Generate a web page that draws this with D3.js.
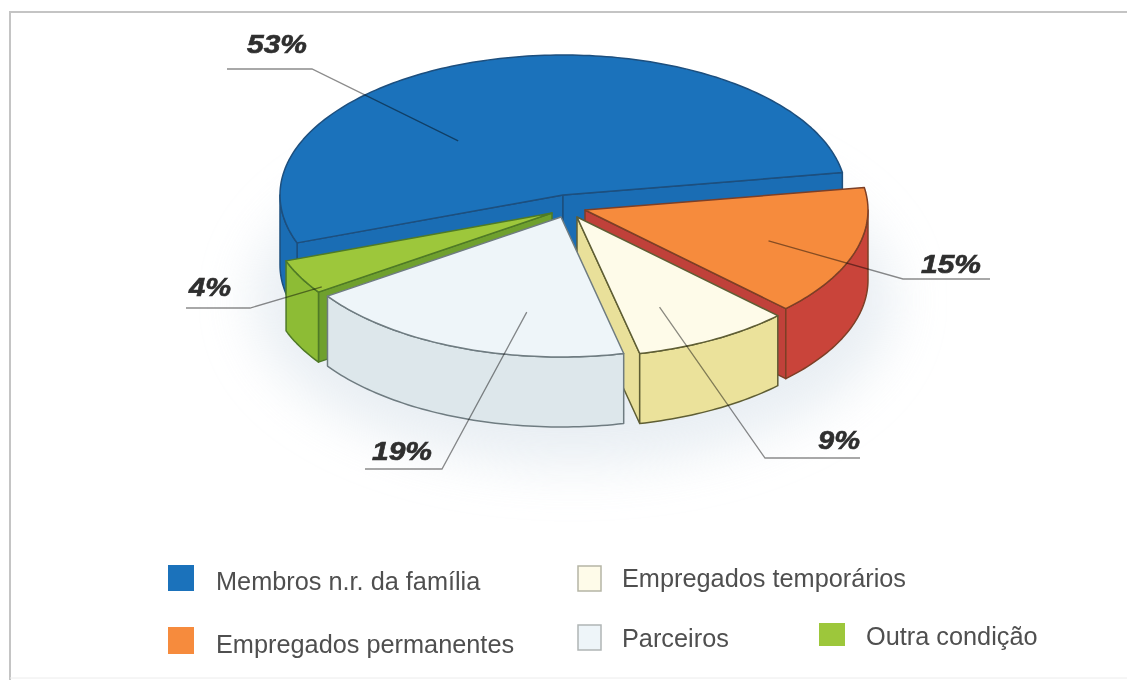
<!DOCTYPE html>
<html>
<head>
<meta charset="utf-8">
<script src="https://cdnjs.cloudflare.com/ajax/libs/d3/7.8.5/d3.min.js"></script>
<style>
	html, body { margin: 0; padding: 0; background: #fff; }
	svg { display: block; filter: blur(0.7px); }
</style>
</head>
<body>
<svg id="chart" width="1127" height="680"></svg>
<script>
// data
const categories = ['Membros n.r. da família', 'Empregados permanentes', 'Empregados temporários', 'Parceiros', 'Outra condição'];
const values = [53, 15, 9, 19, 4];

// colours per slice
const topColors = ['#1b72bb', '#f68b3d', '#fefbe9', '#eef5f9', '#9dc73b'];
const wallColors = ['#1a6db4', '#c9443a', '#ebe29b', '#dde7eb', '#8dbc35'];
const faceColors = ['#1a6db4', '#c0413a', '#e9e09a', '#dde7eb', '#6fa02e'];
const lineColors = ['#1d4f7e', '#7d3f26', '#5f5e34', '#6f7c81', '#4f7a26'];

// slice layout, pixels
const sliceOffsetX = [0, 22, 14, -2, -11];
const sliceOffsetY = [0, 15, 22, 22, 18];
const depth = 70;
const startDeg = -110;

// leaders: anchor is polar inside the slice, elbow and end in pixels
const anchorRadius = [0.535, 0.685, 0.706, 0.69, 0.97];
const anchorDeg = [-43.8, 108.8, 155.6, 190.1, 237];
const elbowX = [312, 903, 765, 442, 250];
const elbowY = [69, 279, 458, 469, 308];
const endX = [227, 990, 860, 365, 186];
const labelX = [277, 951, 839, 402, 210];
const labelY = [53, 273, 449, 460, 296];

// legend layout
const swatchX = [168, 168, 578, 578, 819];
const swatchY = [565, 627, 566, 625, 623];
const swatchW = [26, 26, 23, 23, 26];
const swatchH = [26, 27, 25, 25, 23];
const legendTextX = [216, 216, 622, 622, 866];
const legendTextY = [590, 653, 587, 647, 645];
const swatchStroke = [null, null, '#b5b5a5', '#b0b5b5', null];

const svg = d3.select('#chart');

const defs = svg.append('defs');
defs.append('filter').attr('id', 'glow')
	.attr('x', '-30%').attr('y', '-30%').attr('width', '160%').attr('height', '160%')
	.append('feGaussianBlur').attr('stdDeviation', 26);

// frame
svg.append('path')
	.attr('d', 'M10,680V12H1127')
	.attr('fill', 'none').attr('stroke', '#c4c4c4').attr('stroke-width', 2);
svg.append('line')
	.attr('x1', 10).attr('x2', 1127).attr('y1', 678).attr('y2', 678)
	.attr('stroke', '#ececec');

// unit circle to screen
const x = d3.scaleLinear().domain([-1, 1]).range([280, 846]);
const y = d3.scaleLinear().domain([-1, 1]).range([55, 335]);

const pie = d3.pie().sort(null)
	.startAngle(startDeg * Math.PI / 180)
	.endAngle((startDeg + 360) * Math.PI / 180);
const arcs = pie(values);

const px = a => x(Math.sin(a));
const py = a => y(-Math.cos(a));

function arcPoints(a0, a1) {
	const n = Math.max(2, Math.ceil(Math.abs(a1 - a0) / 0.02));
	return d3.range(n + 1).map(k => a0 + (a1 - a0) * k / n);
}

const line = d3.line();

function topPath(d) {
	const pts = [[x(0), y(0)]].concat(arcPoints(d.startAngle, d.endAngle).map(a => [px(a), py(a)]));
	return line(pts) + 'Z';
}

// outer wall is seen only on the front half of the ellipse
function wallPath(a0, a1) {
	const up = arcPoints(a0, a1).map(a => [px(a), py(a)]);
	const down = arcPoints(a1, a0).map(a => [px(a), py(a) + depth]);
	return line(up.concat(down)) + 'Z';
}

function facePath(a) {
	return line([[x(0), y(0)], [px(a), py(a)], [px(a), py(a) + depth], [x(0), y(0) + depth]]) + 'Z';
}

function frontRanges(d) {
	const half = Math.PI / 2, out = [];
	[[half, 3 * half], [half - 2 * Math.PI, 3 * half - 2 * Math.PI]].forEach(r => {
		const a0 = Math.max(d.startAngle, r[0]), a1 = Math.min(d.endAngle, r[1]);
		if (a1 > a0) out.push([a0, a1]);
	});
	return out;
}

// soft shadow round the pie
svg.append('ellipse')
	.attr('cx', x(0) + 10).attr('cy', y(0) + 105)
	.attr('rx', 320).attr('ry', 165)
	.attr('fill', '#dfe7ee').attr('opacity', 0.7)
	.attr('filter', 'url(#glow)');

// painter order: back slices first, parceiros last
const paintOrder = [0, 1, 2, 4, 3];
paintOrder.forEach(i => {
	const d = arcs[i];
	const g = svg.append('g')
		.attr('transform', 'translate(' + sliceOffsetX[i] + ',' + sliceOffsetY[i] + ')')
		.attr('stroke', lineColors[i])
		.attr('stroke-width', 1.5)
		.attr('stroke-linejoin', 'round');

	if (Math.sin(d.startAngle) < 0) {
		g.append('path').attr('d', facePath(d.startAngle)).attr('fill', faceColors[i]);
	}
	if (Math.sin(d.endAngle) > 0) {
		g.append('path').attr('d', facePath(d.endAngle)).attr('fill', faceColors[i]);
	}
	frontRanges(d).forEach(r => {
		g.append('path').attr('d', wallPath(r[0], r[1])).attr('fill', wallColors[i]);
	});
	g.append('path').attr('d', topPath(d)).attr('fill', topColors[i]);
});

// leaders
const leaders = svg.append('g')
	.attr('fill', 'none')
	.attr('stroke', '#8c8c8c')
	.attr('stroke-width', 1.3)
	.style('mix-blend-mode', 'multiply');

values.forEach((v, i) => {
	const a = anchorDeg[i] * Math.PI / 180;
	const ax = x(anchorRadius[i] * Math.sin(a)) + sliceOffsetX[i];
	const ay = y(-anchorRadius[i] * Math.cos(a)) + sliceOffsetY[i];
	leaders.append('path').attr('d', line([[ax, ay], [elbowX[i], elbowY[i]], [endX[i], elbowY[i]]]));
});

// percent labels, the original face is wider than Liberation
svg.append('g').selectAll('text').data(values).enter().append('text')
	.attr('x', (d, i) => labelX[i])
	.attr('y', (d, i) => labelY[i])
	.attr('text-anchor', 'middle')
	.attr('textLength', d => d >= 10 ? 60 : 42)
	.attr('lengthAdjust', 'spacingAndGlyphs')
	.attr('font-family', '"Liberation Sans", Arial, sans-serif')
	.attr('font-size', 25)
	.attr('font-weight', 'bold')
	.attr('font-style', 'italic')
	.attr('fill', '#2f2f2f')
	.attr('stroke', '#2f2f2f')
	.attr('stroke-width', 0.6)
	.text(d => d + '%');

// legend
const legend = svg.append('g');
categories.forEach((c, i) => {
	legend.append('rect')
		.attr('x', swatchX[i]).attr('y', swatchY[i])
		.attr('width', swatchW[i]).attr('height', swatchH[i])
		.attr('fill', topColors[i])
		.attr('stroke', swatchStroke[i] || 'none')
		.attr('stroke-width', 1.5);
	legend.append('text')
		.attr('x', legendTextX[i]).attr('y', legendTextY[i])
		.attr('font-family', '"Liberation Sans", Arial, sans-serif')
		.attr('font-size', 25.3)
		.attr('fill', '#4f4f4f')
		.text(c);
});
</script>
</body>
</html>
